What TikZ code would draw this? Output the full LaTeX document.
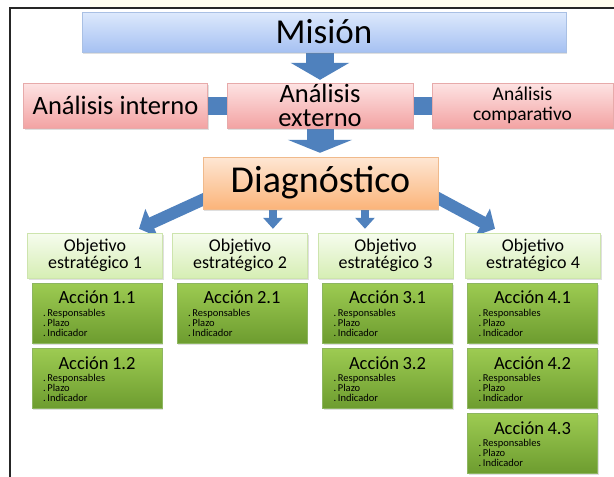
\documentclass[tikz,border=0pt]{standalone}
\usepackage{fontspec}
\setmainfont{Carlito}
\usetikzlibrary{arrows.meta,backgrounds,shadows,calc}
\definecolor{arrowblue}{HTML}{4F81BD}
\definecolor{misTop}{HTML}{DDE9FC}
\definecolor{misBot}{HTML}{A6C1F2}
\definecolor{misDraw}{HTML}{A9C0E4}
\definecolor{pinkTop}{HTML}{FDE3E3}
\definecolor{pinkBot}{HTML}{F3A3A3}
\definecolor{pinkDraw}{HTML}{E7AAAA}
\definecolor{orTop}{HTML}{FEE7D4}
\definecolor{orBot}{HTML}{FBB47A}
\definecolor{orDraw}{HTML}{F0BA8C}
\definecolor{objTop}{HTML}{F6FCEE}
\definecolor{objBot}{HTML}{D6EEB4}
\definecolor{objDraw}{HTML}{CDE4AD}
\definecolor{acTop}{HTML}{9DCB52}
\definecolor{acBot}{HTML}{6D9C2F}
\definecolor{acDraw}{HTML}{8DB660}
\definecolor{stripYellow}{HTML}{FFFDEE}
\newcommand\acctext[1]{\raisebox{0pt}[14pt][4pt]{\makebox[\linewidth]{\fontsize{18.5}{18.5}\selectfont #1}}\\ .\,Responsables\\ .\,Plazo\\ .\,Indicador}
\begin{document}
\begin{tikzpicture}[x=1pt,y=-1pt,
  boxbase/.style={inner sep=0pt, align=center, text=black,
    drop shadow={opacity=0.25, shadow xshift=1pt, shadow yshift=-1.5pt}},
  mis/.style={boxbase, top color=misTop, bottom color=misBot, draw=misDraw,
    minimum width=484pt, minimum height=40pt, font=\fontsize{35}{36}\selectfont},
  ana/.style={boxbase, top color=pinkTop, bottom color=pinkBot, draw=pinkDraw,
    minimum height=45pt, font=\fontsize{26.5}{24}\selectfont},
  diag/.style={boxbase, top color=orTop, bottom color=orBot, draw=orDraw,
    minimum width=235pt, minimum height=52pt, font=\fontsize{38}{40}\selectfont},
  obj/.style={boxbase, top color=objTop, bottom color=objBot, draw=objDraw,
    minimum width=135pt, minimum height=45pt, font=\fontsize{18}{17}\selectfont},
  acc/.style={boxbase, top color=acTop, bottom color=acBot, draw=acDraw,
    minimum width=130pt, minimum height=60pt, inner xsep=11pt,
    text width=108pt, align=left, font=\fontsize{10.5}{10}\selectfont},
  bigarrow/.style={draw=arrowblue, line width=#1},
  bararrow/.style={draw=arrowblue, line width=18pt},
]
\useasboundingbox (0,0) rectangle (614,477);

% boxes
\node[mis] (mision) at (324,32) {Misión};
\node[ana, minimum width=184pt] (interno) at (115.5,105.5) {Análisis interno};
\node[ana, minimum width=186pt] (externo) at (320,105.5) {Análisis\\externo};
\node[ana, minimum width=181pt, font=\fontsize{19.5}{20}\selectfont] (comparativo) at (522.5,105.5) {Análisis\\comparativo};
\node[diag] (diagn) at (320.5,183) {Diagnóstico};

\node[obj] (obj1) at (95,255.5) {Objetivo\\estratégico 1};
\node[obj] (obj2) at (240,255.5) {Objetivo\\estratégico 2};
\node[obj] (obj3) at (385.5,255.5) {Objetivo\\estratégico 3};
\node[obj] (obj4) at (533,255.5) {Objetivo\\estratégico 4};

\node[acc] (a11) at (97,313) {\acctext{Acción 1.1}};
\node[acc] (a12) at (97,378.5) {\acctext{Acción 1.2}};
\node[acc] (a21) at (242,313) {\acctext{Acción 2.1}};
\node[acc] (a31) at (387.5,313) {\acctext{Acción 3.1}};
\node[acc] (a32) at (387.5,378.5) {\acctext{Acción 3.2}};
\node[acc] (a41) at (532.5,313) {\acctext{Acción 4.1}};
\node[acc] (a42) at (532.5,378.5) {\acctext{Acción 4.2}};
\node[acc] (a43) at (532.5,443.5) {\acctext{Acción 4.3}};

\begin{scope}[on background layer]
  \fill[white] (0,0) rectangle (614,477);
  \fill[stripYellow] (90,0) rectangle (614,7);
  \draw[line width=2pt, black!85] (10,477) -- (10,8) -- (614,8);
  % connectors
  \draw[bararrow] (interno.east) -- (externo.west);
  \draw[bararrow] (externo.east) -- (comparativo.west);
  \coordinate (m1) at (mision.south -| externo.north);
  \coordinate (m2) at ([yshift=3pt]externo.north);
  \draw[bigarrow=28pt, -{Triangle[width=58pt,length=17pt]}] (m1) -- (m2);
  \coordinate (e1) at (externo.south);
  \coordinate (e2) at ([yshift=4pt]diagn.north -| externo.south);
  \draw[bigarrow=27pt, -{Triangle[width=64pt,length=13pt]}] (e1) -- (e2);
  \coordinate (s2) at ($(diagn.south west)!0.298!(diagn.south east)$);
  \coordinate (t2) at ([yshift=4pt]s2 |- obj2.north);
  \coordinate (s3) at ($(diagn.south west)!0.689!(diagn.south east)$);
  \coordinate (t3) at ([yshift=4pt]s3 |- obj3.north);
  \draw[bigarrow=8pt, -{Triangle[width=19pt,length=11pt]}] (s2) -- (t2);
  \draw[bigarrow=8pt, -{Triangle[width=19pt,length=11pt]}] (s3) -- (t3);
  \coordinate (s1) at ($(diagn.west)+(8,13)$);
  \coordinate (t1) at ($(obj1.north)+(44,-4)$);
  \coordinate (s4) at ($(diagn.east)+(-8,11)$);
  \coordinate (t4) at ($(obj4.north)+(-38,-4)$);
  \draw[bigarrow=12pt, -{Triangle[width=30pt,length=14pt]}] (s1) -- (t1);
  \draw[bigarrow=12pt, -{Triangle[width=30pt,length=14pt]}] (s4) -- (t4);
\end{scope}
\end{tikzpicture}
\end{document}
